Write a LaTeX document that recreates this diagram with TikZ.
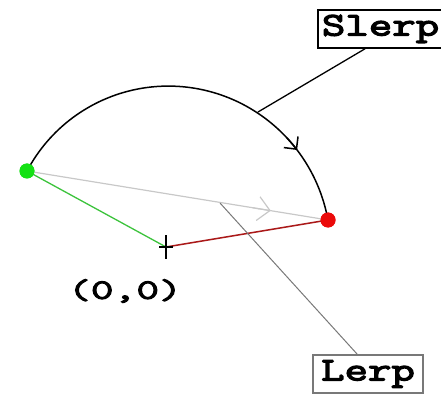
\documentclass[tikz,border=0pt]{standalone}
\usepackage{fontspec}
\newfontfamily\pixfont[FakeStretch=1.38,FakeBold=4]{Latin Modern Mono}
\newfontfamily\orgfont[FakeStretch=1.58,FakeBold=4]{Latin Modern Mono}
\usetikzlibrary{arrows.meta,calc}
\definecolor{ptgreen}{RGB}{20,225,20}
\definecolor{ptred}{RGB}{235,10,10}
\definecolor{lngreen}{RGB}{60,195,60}
\definecolor{lnred}{RGB}{170,25,25}
\definecolor{lerpgray}{RGB}{200,200,200}
\definecolor{leadgray}{RGB}{120,120,120}
\tikzset{
  pt/.style={circle,inner sep=0pt,minimum size=15pt},
  lab/.style={font=\pixfont\fontsize{33}{33}\selectfont,inner sep=0pt},
  tag/.style={lab,draw,inner xsep=5pt,minimum height=38pt},
}
\begin{document}
\begin{tikzpicture}[x=1pt,y=-1pt]
\useasboundingbox (0,0) rectangle (441,395);
\coordinate (O) at (166,247);
\node[pt,fill=ptgreen] (G) at (27,171) {};
\node[pt,fill=ptred] (R) at (328,220) {};
% lerp line
\draw[lerpgray,line width=1.2pt] (G.center) -- (R.center);
\draw[lerpgray,line width=1.2pt,-{Straight Barb[length=12pt,width=24pt,line width=1.2pt]}]
  ($(G.center)!0.75!(R.center)$) -- ($(G.center)!0.81!(R.center)$);
% arms
\draw[lngreen,line width=1.3pt] (G.center) -- (O);
\draw[lnred,line width=1.5pt] (O) -- (R.center);
% slerp arc
\draw[black,line width=1.5pt]
  plot[domain=-151.3:-9.5,samples=90] ({166+(158.4+(\x+151.3)*0.0409)*cos(\x)},{247+(158.4+(\x+151.3)*0.0409)*sin(\x)});
\draw[black,line width=1.5pt,-{Straight Barb[length=9pt,width=18pt,line width=1.5pt]}]
  plot[domain=-42:-36.5,samples=6] ({166+(158.4+(\x+151.3)*0.0409)*cos(\x)},{247+(158.4+(\x+151.3)*0.0409)*sin(\x)});
% redraw points on top
\fill[ptgreen] (G) circle (7.5pt);
\fill[ptred] (R) circle (7.5pt);
% origin cross
\draw[black,line width=1.2pt] (166,235) -- (166,259) (159,247) -- (173,247);
\node[inner sep=0pt,font=\orgfont\fontsize{28}{28}\selectfont] (orig) at (125,291) {(0,0)};
% labels
\node[tag,line width=1.8pt,anchor=north west,inner xsep=4pt] (slerp) at (317,9) {Slerp};
\node[tag,draw=leadgray,line width=1.5pt,minimum width=110pt,minimum height=38pt] (lerp) at (368,374) {Lerp};
\coordinate (sa) at (258,112);
\coordinate (la) at (220,203);
\path (slerp.south west) ++(48,0) coordinate (st);
\draw[black,line width=1.3pt] (st) -- (sa);
\path (lerp.north west) ++(45,0) coordinate (lt);
\draw[leadgray,line width=1pt] (lt) -- (la);
\end{tikzpicture}
\end{document}
